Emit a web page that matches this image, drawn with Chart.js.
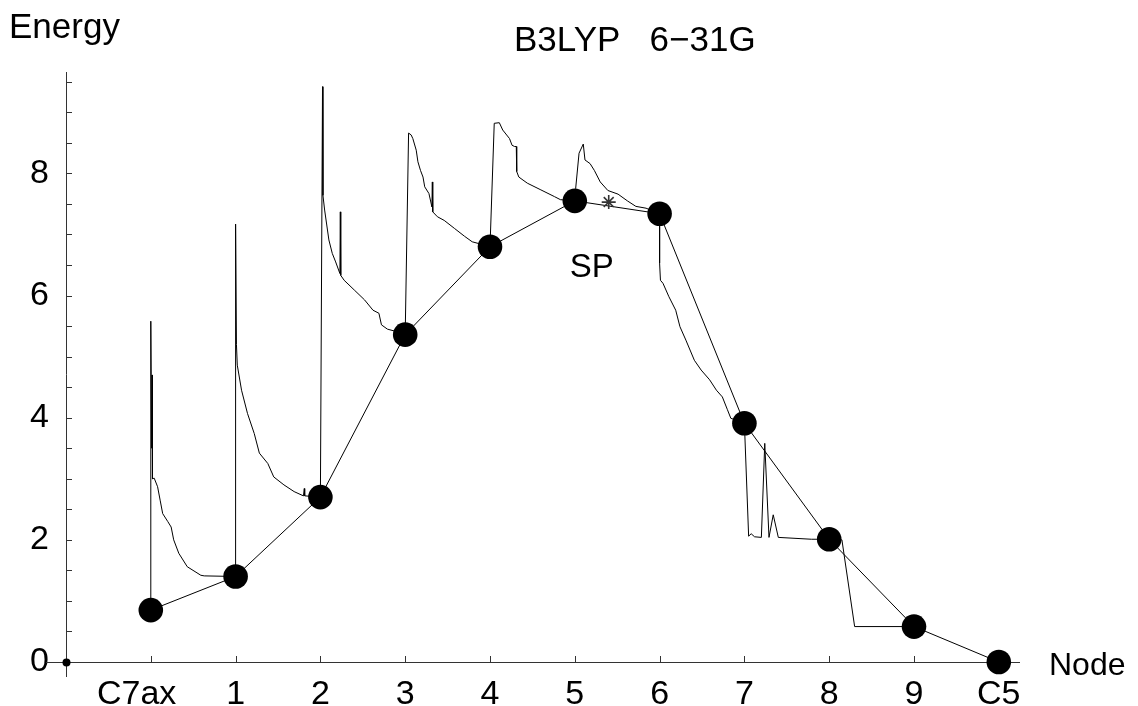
<!DOCTYPE html>
<html>
<head>
<meta charset="utf-8">
<script src="https://cdn.jsdelivr.net/npm/chart.js@4.4.1/dist/chart.umd.min.js"></script>
<style>
  body { margin: 0; background: #fff; }
  #wrap { width: 1138px; height: 706px; }
</style>
</head>
<body>
<div id="wrap"><canvas id="nebChart" width="1138" height="706"></canvas></div>
<script>
// node labels and energies (NEB images)
const nodeLabels = ['C7ax', '1', '2', '3', '4', '5', '6', '7', '8', '9', 'C5'];
const nodeEnergy = [0.85, 1.40, 2.70, 5.36, 6.80, 7.55, 7.34, 3.91, 2.01, 0.58, 0.0];

// y axis ticks (every 0.5, labelled every 2)
const yTickValues = [0, 0.5, 1, 1.5, 2, 2.5, 3, 3.5, 4, 4.5, 5, 5.5, 6, 6.5, 7, 7.5, 8, 8.5, 9, 9.5];
const yTickLabels = ['0', '2', '4', '6', '8'];

// optimisation trajectory between neighbouring nodes, [x, energy]
const path0 = [[0, 0.85], [0, 5.58], [0.01, 3.5], [0.015, 4.7], [0.02, 3.0], [0.04, 3.01], [0.08, 2.87],
  [0.11, 2.65], [0.14, 2.43], [0.2, 2.3], [0.24, 2.21], [0.27, 2.0], [0.33, 1.78], [0.43, 1.56],
  [0.59, 1.42], [0.63, 1.41], [1, 1.40]];
const path1 = [[1, 1.40], [1, 7.17], [1.01, 5.2], [1.02, 4.86], [1.07, 4.45], [1.14, 4.07], [1.22, 3.74],
  [1.28, 3.42], [1.38, 3.25], [1.45, 3.03], [1.57, 2.90], [1.69, 2.79], [1.80, 2.72], [1.81, 2.84],
  [1.815, 2.72], [1.91, 2.71], [2, 2.70]];
const path2 = [[2, 2.70], [2.025, 9.42], [2.03, 7.64], [2.05, 7.40], [2.10, 6.91], [2.14, 6.69], [2.18, 6.55],
  [2.23, 6.36], [2.235, 7.37], [2.24, 6.33], [2.28, 6.25], [2.40, 6.09], [2.52, 5.93], [2.62, 5.76],
  [2.69, 5.71], [2.72, 5.52], [2.79, 5.45], [2.87, 5.42], [3, 5.36]];
const path3 = [[3, 5.36], [3.04, 8.66], [3.07, 8.63], [3.09, 8.57], [3.13, 8.38], [3.15, 8.19], [3.18, 8.05],
  [3.21, 7.94], [3.23, 7.78], [3.28, 7.67], [3.315, 7.45], [3.32, 7.86], [3.325, 7.37], [3.38, 7.29],
  [3.46, 7.23], [3.58, 7.10], [3.70, 6.97], [3.79, 6.88], [3.87, 6.85], [4, 6.80]];
const path4 = [[4, 6.80], [4.05, 8.82], [4.11, 8.83], [4.15, 8.71], [4.23, 8.57], [4.26, 8.46], [4.29, 8.44],
  [4.31, 8.44], [4.315, 8.03], [4.34, 7.94], [4.44, 7.84], [4.60, 7.73], [4.76, 7.62], [4.83, 7.57], [5, 7.55]];
const path5 = [[5, 7.55], [5.01, 7.75], [5.05, 8.33], [5.10, 8.48], [5.12, 8.22], [5.18, 8.16], [5.23, 8.05],
  [5.30, 7.86], [5.39, 7.72], [5.51, 7.66], [5.62, 7.55], [5.72, 7.46], [5.84, 7.43], [6, 7.34]];
const path6 = [[6, 7.34], [6.0, 6.53], [6.01, 6.25], [6.04, 6.20], [6.11, 5.98], [6.19, 5.76], [6.24, 5.49],
  [6.31, 5.27], [6.41, 4.94], [6.49, 4.78], [6.59, 4.62], [6.67, 4.45], [6.74, 4.34], [6.80, 4.13],
  [6.84, 3.99], [7, 3.91]];
const path7 = [[7, 3.91], [7.05, 2.06], [7.08, 2.10], [7.12, 2.05], [7.20, 2.04], [7.24, 3.58], [7.29, 2.04],
  [7.34, 2.41], [7.40, 2.04], [7.79, 2.01], [8, 2.01]];
const path8 = [[8, 2.01], [8.15, 2.00], [8.30, 0.58], [9, 0.58]];

// saddle point marker
const spMark = [5.40, 7.53];

const trajectory = [path0, path1, path2, path3, path4, path5, path6, path7, path8]
  .flat()
  .map(p => ({ x: p[0], y: p[1] }));
const nodePoints = nodeEnergy.map((e, i) => ({ x: i, y: e }));

const FONT = "'Liberation Sans', Arial, Helvetica, sans-serif";

// axes drawn Mathematica style: crossing at the origin, ticks pointing inward
const axesPlugin = {
  id: 'axesPlugin',
  beforeDatasetsDraw(chart) {
    const { ctx, scales: { x, y } } = chart;
    const x0 = x.getPixelForValue(-1);
    const y0 = y.getPixelForValue(0);
    ctx.save();
    ctx.strokeStyle = '#333';
    ctx.lineWidth = 1;
    ctx.beginPath();
    ctx.moveTo(x0 - 20, y0 + 0.5);
    ctx.lineTo(x.right, y0 + 0.5);
    ctx.moveTo(x0 + 0.5, y.top);
    ctx.lineTo(x0 + 0.5, y0 + 15);
    // ticks
    nodeLabels.forEach((_, i) => {
      const px = Math.round(x.getPixelForValue(i)) + 0.5;
      ctx.moveTo(px, y0);
      ctx.lineTo(px, y0 - 6);
    });
    yTickValues.forEach(v => {
      if (v === 0) return;
      const py = Math.round(y.getPixelForValue(v)) + 0.5;
      ctx.moveTo(x0, py);
      ctx.lineTo(x0 + 6, py);
    });
    ctx.stroke();
    ctx.fillStyle = '#000';
    ctx.beginPath();
    ctx.arc(x0 + 0.5, y0 + 0.5, 4, 0, Math.PI * 2);
    ctx.fill();
    ctx.restore();
  },
  afterDraw(chart) {
    const { ctx, scales: { x, y } } = chart;
    ctx.save();
    ctx.fillStyle = '#000';
    ctx.textBaseline = 'alphabetic';
    ctx.textAlign = 'left';
    ctx.font = '35px ' + FONT;
    ctx.fillText('Energy', 9, 38);
    ctx.fillText('B3LYP   6\u221231G', 514, 51);
    ctx.font = '32px ' + FONT;
    ctx.fillText('Node', 1049, 675);
    ctx.font = '33px ' + FONT;
    ctx.textAlign = 'center';
    ctx.fillText('SP', x.getPixelForValue(5.20), y.getPixelForValue(6.31));
    ctx.restore();
  }
};

const ctx = document.getElementById('nebChart').getContext('2d');
new Chart(ctx, {
  type: 'line',
  data: {
    datasets: [
      {
        label: 'nodes',
        data: nodePoints,
        borderColor: '#000',
        borderWidth: 1,
        pointRadius: 12.3,
        pointBackgroundColor: '#000',
        pointBorderWidth: 0,
        tension: 0,
        clip: false,
        order: 1
      },
      {
        label: 'path',
        data: trajectory,
        borderColor: '#000',
        borderWidth: 1,
        pointRadius: 0,
        tension: 0,
        clip: false,
        order: 2
      },
      {
        label: 'sp',
        data: [{ x: spMark[0], y: spMark[1] }],
        showLine: false,
        pointStyle: 'star',
        pointRadius: 7,
        pointBorderColor: '#333',
        pointBorderWidth: 1.6,
        order: 0
      }
    ]
  },
  options: {
    responsive: false,
    animation: false,
    devicePixelRatio: 1,
    layout: { padding: { left: 0, top: 72, right: 118, bottom: 0 } },
    plugins: {
      legend: { display: false },
      tooltip: { enabled: false }
    },
    scales: {
      x: {
        type: 'linear',
        min: -1,
        max: 10.25,
        grid: { display: false, drawTicks: false },
        border: { display: false },
        afterBuildTicks: s => { s.ticks = nodeLabels.map((_, i) => ({ value: i })); },
        afterFit: s => { s.height = 44; },
        ticks: {
          autoSkip: false,
          maxRotation: 0,
          padding: 12,
          color: '#000',
          font: { family: FONT, size: 34 },
          // first label sits a little left of its tick in the original
          callback: v => (v === 0 ? nodeLabels[v] + '   ' : nodeLabels[v])
        }
      },
      y: {
        type: 'linear',
        min: 0,
        max: 9.66,
        grid: { display: false, drawTicks: false },
        border: { display: false },
        afterBuildTicks: s => { s.ticks = yTickValues.map(v => ({ value: v })); },
        afterFit: s => { s.width = 66; },
        ticks: {
          autoSkip: false,
          padding: 17,
          color: '#000',
          font: { family: FONT, size: 34 },
          callback: v => (yTickLabels.includes(String(v)) ? String(v) : '')
        }
      }
    }
  },
  plugins: [axesPlugin]
});
</script>
</body>
</html>
